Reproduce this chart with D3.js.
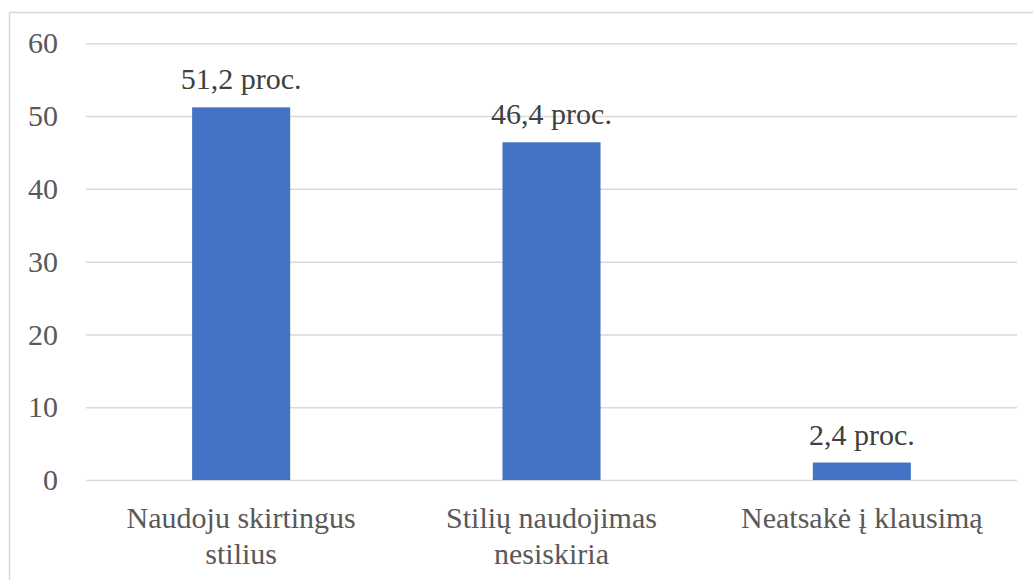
<!DOCTYPE html>
<html>
<head>
<meta charset="utf-8">
<script src="https://cdn.jsdelivr.net/npm/d3@7"></script>
<style>
  body { margin: 0; background: #fff; }
  svg { display: block; }
  svg text { font-family: "Liberation Serif", "Times New Roman", Tinos, "DejaVu Serif", serif; }
</style>
</head>
<body>
<svg id="chart" width="1033" height="580"></svg>
<script>
const categories = [["Naudoju skirtingus", "stilius"], ["Stilių naudojimas", "nesiskiria"], ["Neatsakė į klausimą"]];
const values = [51.2, 46.4, 2.4];
const dataLabels = ["51,2 proc.", "46,4 proc.", "2,4 proc."];
const yTicks = [0, 10, 20, 30, 40, 50, 60];

const svg = d3.select("#chart");
const font = '"Liberation Serif", "Times New Roman", Tinos, "DejaVu Serif", serif';
const fs = "30px";

svg.append("rect")
  .attr("x", 9.5).attr("y", 12.5)
  .attr("width", 1040).attr("height", 600)
  .attr("fill", "#fff").attr("stroke", "#d9d9d9").attr("stroke-width", 1.5);

const keys = categories.map((c, i) => i);
const x = d3.scaleBand().domain(keys).range([86, 1017]).paddingInner(0.684).paddingOuter(0.342);
const y = d3.scaleLinear().domain([0, 60]).range([480, 43.3]);

const yAxis = d3.axisLeft(y).tickValues(yTicks).tickSize(-(1017 - 86)).tickPadding(28).tickFormat(d3.format("d"));
const gy = svg.append("g").attr("transform", "translate(86,0)").call(yAxis);
gy.attr("font-family", null).attr("font-size", null);
gy.select(".domain").remove();
gy.selectAll(".tick line").attr("stroke", "#d9d9d9").attr("stroke-width", 1.5);
gy.selectAll(".tick text").attr("fill", "#595959").attr("font-family", font).style("font-size", fs);

svg.append("g").selectAll("rect").data(values).join("rect")
  .attr("x", (d, i) => x(i))
  .attr("y", d => y(d))
  .attr("width", x.bandwidth())
  .attr("height", d => y(0) - y(d))
  .attr("fill", "#4472c4");

svg.append("g").selectAll("text").data(values).join("text")
  .attr("x", (d, i) => x(i) + x.bandwidth() / 2)
  .attr("y", d => y(d) - 18)
  .attr("text-anchor", "middle")
  .attr("fill", "#404040")
  .attr("font-family", font).style("font-size", fs)
  .text((d, i) => dataLabels[i]);

const cg = svg.append("g");
categories.forEach((lines, i) => {
  const t = cg.append("text")
    .attr("x", x(i) + x.bandwidth() / 2)
    .attr("y", 528)
    .attr("text-anchor", "middle")
    .attr("fill", "#595959")
    .attr("font-family", font).style("font-size", fs);
  lines.forEach((ln, j) => {
    t.append("tspan").attr("x", x(i) + x.bandwidth() / 2).attr("y", 528 + j * 36).text(ln);
  });
});
</script>
</body>
</html>
